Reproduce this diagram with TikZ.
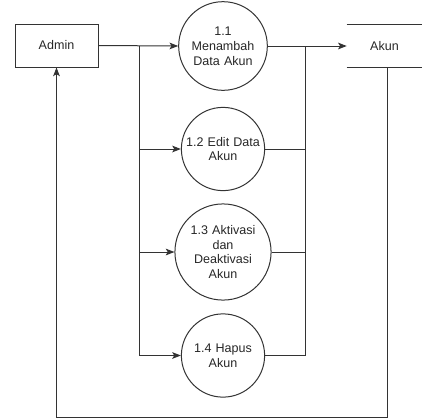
\documentclass[tikz,border=0pt]{standalone}
\usepackage{fontspec}
\setmainfont{Liberation Sans}
\usetikzlibrary{arrows.meta}
\begin{document}
\begin{tikzpicture}[x=0.75pt,y=-0.75pt,
  every node/.style={font=\fontsize{9.4pt}{11.2pt}\selectfont, text=black!85, align=center},
  ln/.style={draw=black!80, line width=0.75pt},
  arr/.style={ln, -{Stealth[length=6.5pt,width=5pt,inset=1.5pt]}},
  proc/.style={circle, ln, minimum size=83*0.75pt, inner sep=0pt, text width=60pt},
  ent/.style={rectangle, ln, minimum width=83*0.75pt, minimum height=43*0.75pt, inner sep=0pt}]
\useasboundingbox (0,0) rectangle (422,419);
\node[ent] (admin) at (56.5,45.5) {Admin};
\node[proc] (p1) at (223,46) {1.1\\Menambah\\Data Akun};
\node[proc] (p2) at (223,149) {1.2 Edit Data\\Akun};
\node[proc] (p3) at (223,252) {1.3 Aktivasi\\dan\\Deaktivasi\\Akun};
\node[proc] (p4) at (223,355.5) {1.4 Hapus\\Akun};
\node[minimum width=75*0.75pt, minimum height=42*0.75pt, inner sep=0pt] (akun) at (384.5,46) {Akun};
\draw[ln] (akun.north west) -- (akun.north east);
\draw[ln] (akun.south west) -- (akun.south east);
\coordinate (j1) at (139.5,46);
\coordinate (j2) at (305.5,46);
\coordinate (ak) at (387.7,67);
\coordinate (bot) at (387.7,417.5);
\draw[arr] (admin.east) -- (p1.west);
\draw[ln] (j1) -- (j1 |- p4);
\draw[arr] (j1 |- p2) -- (p2.west);
\draw[arr] (j1 |- p3) -- (p3.west);
\draw[arr] (j1 |- p4) -- (p4.west);
\draw[arr] (p1.east) -- (akun.west);
\draw[ln] (p2.east) -| (j2);
\draw[ln] (p3.east) -- (j2 |- p3);
\draw[ln] (p4.east) -| (j2);
\draw[arr] (ak) -- (bot) -| (admin.south);
\end{tikzpicture}
\end{document}
